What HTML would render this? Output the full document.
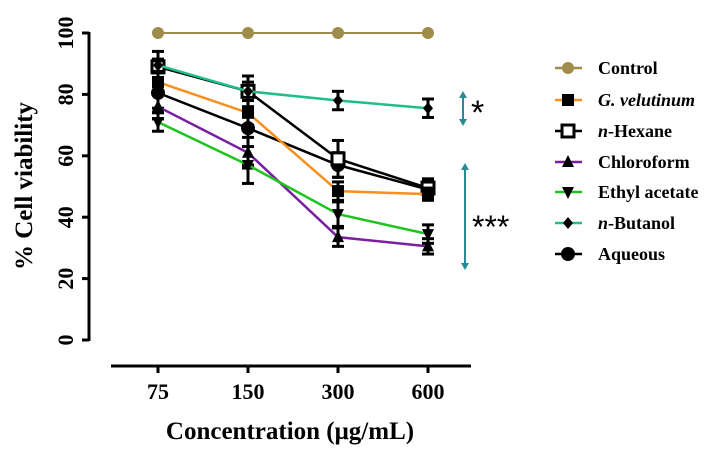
<!DOCTYPE html>
<html><head><meta charset="utf-8"><style>
body{margin:0;background:#fff;}
svg{display:block;font-family:"Liberation Serif",serif;font-weight:bold;}
</style></head><body>
<svg id="c" width="725" height="454"></svg>
<script>
const categories=["75","150","300","600"];
const yTicks=[0,20,40,60,80,100];
const seriesNames=["Control","G. velutinum","n-Hexane","Chloroform","Ethyl acetate","n-Butanol","Aqueous"];
const control=[100,100,100,100];
const velutinum=[84,74,48.5,47.5];
const hexane=[89,81,59,49.5];
const chloroform=[76,61,33.5,30.5];
const ethyl=[71,57,41,34.5];
const butanol=[89.5,81,78,75.5];
const aqueous=[80.5,69,57,49];
const errVel=[3,4,3,2];
const errHex=[5,5,6,3];
const errChl=[4,5,3,2.5];
const errEth=[3,6,4,3];
const errBut=[2,3,3,3];
const errAq=[5,12,4,3];
const errCtl=[0,0,0,0];
const colors=["#a08c4a","#f7901e","#000","#7a1fa2","#1ec31e","#1fbf8a","#000"];
const markers=["circle","hbar","square","tri","tridown","diamond","circle"];
const vals=[control,velutinum,hexane,chloroform,ethyl,butanol,aqueous];
const errs=[errCtl,errVel,errHex,errChl,errEth,errBut,errAq];
const NS="http://www.w3.org/2000/svg";
const svg=document.getElementById('c');
function y(v){return 340-v*3.07;}
function x(i){return 158+i*90;}
function mk(t,a,p){const e=document.createElementNS(NS,t);for(const k in a)e.setAttribute(k,a[k]);(p||svg).appendChild(e);return e;}
let g=mk('g',{});


mk('line',{x1:89,y1:32,x2:89,y2:341,stroke:'#000','stroke-width':3},g);
yTicks.forEach(t=>{
  mk('line',{x1:82,y1:y(t),x2:89,y2:y(t),stroke:'#000','stroke-width':3},g);
  const tx=mk('text',{x:0,y:0,'font-size':22,'text-anchor':'middle',transform:`translate(${73},${y(t)}) rotate(-90)`},g);
  tx.textContent=t;
  
  
});
let yt=mk('text',{'font-size':25,'text-anchor':'middle',transform:'translate(32,186) rotate(-90)'});
yt.textContent='% Cell viability';


let gx=mk('g',{});


mk('line',{x1:111,y1:366,x2:471,y2:366,stroke:'#000','stroke-width':3},gx);
categories.forEach((c,i)=>{
  mk('line',{x1:x(i),y1:366,x2:x(i),y2:373,stroke:'#000','stroke-width':3},gx);
  const t=mk('text',{x:x(i),y:399,'font-size':22,'text-anchor':'middle'},gx);
  t.textContent=c;
  
  
});
let xt=mk('text',{x:290,y:439,'font-size':25,'text-anchor':'middle'});
xt.textContent='Concentration (μg/mL)';


function marker(type,cx,cy,col,p){
  if(type==='circle')mk('circle',{cx,cy,r:col===colors[0]?6:7,fill:col===colors[0]?col:'#000'},p);
  else if(type==='square')mk('rect',{x:cx-6,y:cy-6,width:12,height:12,fill:'#fff',stroke:'#000','stroke-width':3},p);
  else if(type==='hbar')mk('rect',{x:cx-6,y:cy-6,width:12,height:12,fill:'#000'},p);
  else if(type==='tri')mk('polygon',{points:`${cx},${cy-7} ${cx-6},${cy+5} ${cx+6},${cy+5}`,fill:'#000'},p);
  else if(type==='tridown')mk('polygon',{points:`${cx},${cy+7} ${cx-6},${cy-5} ${cx+6},${cy-5}`,fill:'#000'},p);
  else mk('polygon',{points:`${cx},${cy-6} ${cx-5},${cy} ${cx},${cy+6} ${cx+5},${cy}`,fill:'#000'},p);
}
const order=[6,2,1,3,4,5,0];
order.forEach(si=>{
  const sg=mk('g',{});
  
  
  const d=vals[si].map((v,i)=>(i?'L':'M')+x(i)+','+y(v)).join(' ');
  mk('path',{d,fill:'none',stroke:colors[si],'stroke-width':si===0?2:2.5},sg);
  vals[si].forEach((v,i)=>{
    const e=errs[si][i];
    if(e>0){
      mk('line',{x1:x(i),y1:y(v+e),x2:x(i),y2:y(v-e),stroke:'#000','stroke-width':3},sg);
      mk('line',{x1:x(i)-6,y1:y(v+e),x2:x(i)+6,y2:y(v+e),stroke:'#000','stroke-width':3},sg);
      mk('line',{x1:x(i)-6,y1:y(v-e),x2:x(i)+6,y2:y(v-e),stroke:'#000','stroke-width':3},sg);
    }
    marker(markers[si],x(i),y(v),colors[si],sg);
  });
});
function arrow(xx,y1,y2,name){
  const a=mk('g',{});
  
  
  mk('line',{x1:xx,y1:y1+4,x2:xx,y2:y2-4,stroke:'#2a8a93','stroke-width':2},a);
  mk('polygon',{points:`${xx},${y1} ${xx-4},${y1+7} ${xx+4},${y1+7}`,fill:'#2a8a93'},a);
  mk('polygon',{points:`${xx},${y2} ${xx-4},${y2-7} ${xx+4},${y2-7}`,fill:'#2a8a93'},a);
}
arrow(463,91,126,'significance-arrow-single');
arrow(465,163,270,'significance-arrow-triple');
let s1=mk('text',{x:471,y:124,'font-size':34,'font-family':'Liberation Sans,sans-serif','font-weight':'normal'});
s1.textContent='*';


let s3=mk('text',{x:472,y:238,'font-size':32,'font-family':'Liberation Sans,sans-serif','font-weight':'normal'});
s3.textContent='***';


const rows=[68,100,131,162,192,223,254];
seriesNames.forEach((n,si)=>{
  const lg=mk('g',{});
  
  
  const yy=rows[si];
  mk('line',{x1:555,y1:yy,x2:582,y2:yy,stroke:colors[si],'stroke-width':2.5},lg);
  marker(markers[si],568,yy,colors[si],lg);
  const t=mk('text',{x:598,y:yy+6,'font-size':18},lg);
  if(si===1){t.innerHTML='<tspan font-style="italic">G. velutinum</tspan>';}
  else if(n.startsWith('n-')){t.innerHTML='<tspan font-style="italic">n</tspan>'+n.slice(1);}
  else t.textContent=n;
});
</script>
</body></html>
